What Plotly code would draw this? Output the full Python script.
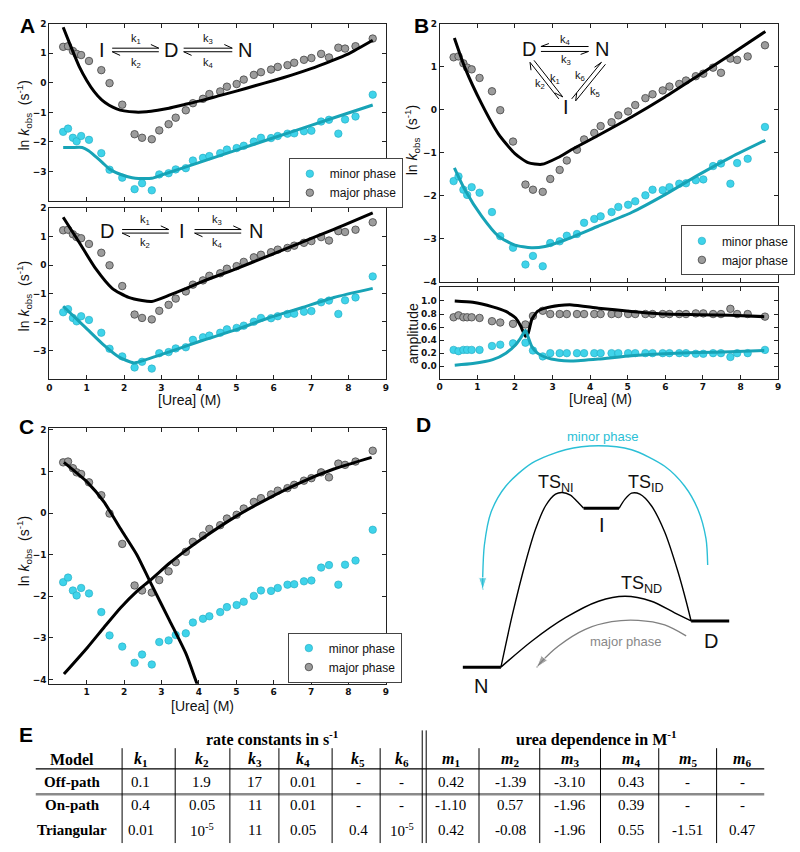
import plotly.graph_objects as go

# ---- measured data (same kinetic data in A, B, C) ----
urea = [0.37, 0.50, 0.63, 0.73, 0.85, 1.06, 1.39, 1.61, 1.95, 2.28, 2.48, 2.74, 2.94, 3.19,
        3.38, 3.65, 3.84, 4.11, 4.28, 4.57, 4.75, 5.01, 5.20, 5.47, 5.66, 5.93, 6.11, 6.37,
        6.55, 6.81, 7.01, 7.27, 7.48, 7.73, 7.91, 8.19, 8.65]
major = [1.22, 1.24, 1.08, 0.98, 0.94, 0.74, 0.43, -0.01, -0.74, -1.74, -1.86, -1.91, -1.61, -1.40,
         -1.18, -0.93, -0.69, -0.54, -0.38, -0.29, -0.13, -0.04, 0.11, 0.27, 0.36, 0.45, 0.54, 0.60,
         0.68, 0.78, 0.84, 0.98, 0.86, 1.19, 1.16, 1.24, 1.50]
minor = [-1.66, -1.55, -1.86, -1.98, -1.80, -1.93, -2.38, -2.94, -3.21, -3.60, -3.40, -3.64, -3.10, -3.06,
         -2.93, -2.89, -2.63, -2.54, -2.48, -2.38, -2.26, -2.21, -2.13, -1.99, -1.86, -1.87, -1.80, -1.72,
         -1.71, -1.64, -1.62, -1.31, -1.25, -1.72, -1.24, -1.14, -0.40]
amp_major = [0.75, 0.78, 0.75, 0.75, 0.75, 0.74, 0.69, 0.67, 0.65, 0.64, 0.77, 0.85, 0.80, 0.80,
             0.80, 0.80, 0.80, 0.80, 0.80, 0.80, 0.80, 0.80, 0.80, 0.80, 0.80, 0.80, 0.80, 0.80,
             0.80, 0.81, 0.81, 0.80, 0.80, 0.88, 0.80, 0.80, 0.76]
amp_minor = [0.25, 0.23, 0.25, 0.25, 0.25, 0.25, 0.31, 0.33, 0.35, 0.36, 0.24, 0.15, 0.20, 0.20,
             0.20, 0.20, 0.20, 0.20, 0.20, 0.20, 0.20, 0.20, 0.20, 0.20, 0.20, 0.20, 0.20, 0.20,
             0.20, 0.19, 0.19, 0.20, 0.20, 0.14, 0.20, 0.20, 0.25]

# ---- model fits ----
offp_x = [0.37, 0.6, 0.8, 1.0, 1.2, 1.4, 1.6, 1.8, 2.0, 2.3, 2.6, 2.9, 3.2, 3.6, 4.0, 4.5, 5.0, 5.5, 6.0, 6.5, 7.0, 7.5, 8.0, 8.65]
offp_major = [1.88, 1.15, 0.55, 0.08, -0.30, -0.58, -0.76, -0.88, -0.95, -0.99, -0.98, -0.93, -0.86, -0.74, -0.62, -0.45, -0.28, -0.10, 0.08, 0.27, 0.48, 0.72, 0.98, 1.44]
offp_minor_x = [0.37, 0.6, 0.88, 1.05, 1.24, 1.42, 1.59, 1.77, 1.95, 2.1, 2.3, 2.74, 3.0, 4.0, 5.0, 6.0, 7.0, 8.0, 8.65]
offp_minor = [-2.19, -2.19, -2.19, -2.30, -2.50, -2.70, -2.90, -3.03, -3.12, -3.18, -3.23, -3.23, -3.12, -2.70, -2.28, -1.86, -1.44, -1.02, -0.75]

onp_x = [0.37, 0.8, 1.24, 1.68, 2.12, 2.48, 2.74, 3.19, 3.63, 4.07, 4.96, 5.84, 6.73, 7.61, 8.65]
onp_major = [1.68, 0.79, -0.13, -0.82, -1.14, -1.25, -1.28, -1.07, -0.84, -0.59, -0.15, 0.31, 0.79, 1.25, 1.83]
onp_minor_x = [0.37, 0.97, 1.42, 1.86, 2.26, 2.48, 3.19, 4.07, 4.96, 5.84, 6.73, 7.61, 8.65]
onp_minor = [-1.45, -2.20, -2.77, -3.23, -3.44, -3.37, -3.06, -2.66, -2.29, -1.87, -1.51, -1.14, -0.82]

tri_x = [0.39, 0.67, 1.12, 1.56, 2.0, 2.35, 2.71, 3.15, 3.50, 4.21, 5.10, 5.98, 6.87, 7.75, 8.66]
tri_major = [1.67, 0.98, 0.13, -0.56, -1.02, -1.23, -1.27, -1.11, -0.93, -0.60, -0.17, 0.29, 0.79, 1.29, 1.82]
tri_minor_x = [0.39, 0.67, 1.12, 1.56, 2.0, 2.44, 2.80, 3.33, 4.21, 5.10, 5.98, 6.87, 7.75, 8.66]
tri_minor = [-1.35, -1.86, -2.48, -2.94, -3.15, -3.21, -3.18, -3.03, -2.71, -2.39, -1.98, -1.52, -1.10, -0.71]

amp_fit_x = [0.40, 0.88, 1.41, 1.76, 2.02, 2.15, 2.28, 2.35, 2.45, 2.6, 2.8, 3.17, 3.52, 4.22, 5.10, 5.98, 6.86, 7.74, 8.63]
amp_fit_major = [1.00, 0.98, 0.91, 0.84, 0.74, 0.62, 0.46, 0.50, 0.72, 0.84, 0.89, 0.93, 0.94, 0.89, 0.84, 0.80, 0.79, 0.78, 0.76]
amp_fit_minor = [0.015, 0.04, 0.10, 0.20, 0.33, 0.43, 0.55, 0.45, 0.30, 0.20, 0.14, 0.09, 0.08, 0.11, 0.16, 0.19, 0.21, 0.22, 0.24]

two_x = [0.39, 1.02, 1.46, 1.90, 2.34, 2.69, 3.22, 3.66, 4.09, 4.97, 5.85, 6.73, 7.61, 8.62]
two_fold = [-3.87, -3.23, -2.75, -2.28, -1.88, -1.62, -1.20, -0.89, -0.61, -0.09, 0.35, 0.74, 1.06, 1.34]
two_unf_x = [0.39, 1.02, 1.46, 1.90, 2.34, 2.69, 3.22, 3.66, 3.92, 4.05]
two_unf = [1.22, 0.74, 0.27, -0.37, -1.00, -1.64, -2.59, -3.39, -4.03, -4.35]

# ---- energy diagram (schematic, in panel pixel units) ----
ts_up_x = [501.7, 513.3, 526.7, 536.7, 546.7, 556.7, 563.3, 571.7, 580, 585]
ts_up_y = [670, 616.7, 563.3, 530, 506.7, 495, 493.3, 496, 504, 509.3]
ts_dn_x = [620.7, 626.7, 633.3, 641.7, 653.3, 666.7, 680, 688.3, 693.3]
ts_dn_y = [509.3, 500, 494, 495, 506.7, 533.3, 573.3, 603.3, 623.3]
ts_nd_x = [501.7, 533.3, 566.7, 600, 626.7, 653.3, 676.7, 693.3]
ts_nd_y = [670, 643.3, 620, 603.3, 598.3, 603.3, 615, 623.3]
minor_arc_x = [710, 708.3, 700, 686.7, 666.7, 633.3, 600, 566.7, 533.3, 506.7, 491.7, 485, 483.3, 483.3]
minor_arc_y = [566.7, 540, 510, 486.7, 466.7, 450, 446, 450, 463.3, 486.7, 513.3, 546.7, 580, 592]
major_arc_x = [688.3, 666.7, 640, 613.3, 586.7, 560, 542, 537.5]
major_arc_y = [638.3, 627.3, 622.7, 624, 631.7, 648.3, 665, 670.5]
levels = {"N": (463.3, 501.7, 670), "I": (585, 620.7, 509.3), "D": (693.3, 731.7, 623.3)}

# ---- table E ----
tab_cols = ["Model", "k1", "k2", "k3", "k4", "k5", "k6", "m1", "m2", "m3", "m4", "m5", "m6"]
tab_rows = {
    "Off-path": ["0.1", "1.9", "17", "0.01", "-", "-", "0.42", "-1.39", "-3.10", "0.43", "-", "-"],
    "On-path": ["0.4", "0.05", "11", "0.01", "-", "-", "-1.10", "0.57", "-1.96", "0.39", "-", "-"],
    "Triangular": ["0.01", "10<sup>-5</sup>", "11", "0.05", "0.4", "10<sup>-5</sup>", "0.42", "-0.08", "-1.96", "0.55", "-1.51", "0.47"],
}

CYAN = "#3fd3ea"
TEAL = "#17a3b6"
GREY = "#9c9c9c"
W, H = 800, 852


def px(x):
    return x / W


def py(y):
    return 1 - y / H


fig = go.Figure()


def kin_panel(n, fits, legend=None):
    xa, ya = ("x", "y") if n == 1 else (f"x{n}", f"y{n}")
    fig.add_trace(go.Scatter(x=urea, y=minor, mode="markers", xaxis=xa, yaxis=ya, name="minor phase",
                             marker=dict(color=CYAN, size=7.5, line=dict(color="#22aabf", width=0.6)),
                             showlegend=legend is not None, legend=legend or "legend"))
    fig.add_trace(go.Scatter(x=urea, y=major, mode="markers", xaxis=xa, yaxis=ya, name="major phase",
                             marker=dict(color=GREY, size=7.5, line=dict(color="#444", width=0.8)),
                             showlegend=legend is not None, legend=legend or "legend"))
    for fx, fy, col in fits:
        fig.add_trace(go.Scatter(x=fx, y=fy, mode="lines", xaxis=xa, yaxis=ya, showlegend=False,
                                 line=dict(color=col, width=3, shape="spline", smoothing=0.6)))


kin_panel(1, [(offp_x, offp_major, "black"), (offp_minor_x, offp_minor, TEAL)], "legend")
kin_panel(2, [(onp_x, onp_major, "black"), (onp_minor_x, onp_minor, TEAL)])
kin_panel(3, [(tri_x, tri_major, "black"), (tri_minor_x, tri_minor, TEAL)], "legend2")
kin_panel(5, [(two_x, two_fold, "black"), (two_unf_x, two_unf, "black")], "legend3")

# amplitudes
fig.add_trace(go.Scatter(x=urea, y=amp_minor, mode="markers", xaxis="x4", yaxis="y4", showlegend=False,
                         marker=dict(color=CYAN, size=7.5, line=dict(color="#22aabf", width=0.6))))
fig.add_trace(go.Scatter(x=urea, y=amp_major, mode="markers", xaxis="x4", yaxis="y4", showlegend=False,
                         marker=dict(color=GREY, size=7.5, line=dict(color="#444", width=0.8))))
fig.add_trace(go.Scatter(x=amp_fit_x, y=amp_fit_major, mode="lines", xaxis="x4", yaxis="y4", showlegend=False,
                         line=dict(color="black", width=3, shape="spline", smoothing=0.5)))
fig.add_trace(go.Scatter(x=amp_fit_x, y=amp_fit_minor, mode="lines", xaxis="x4", yaxis="y4", showlegend=False,
                         line=dict(color=TEAL, width=3, shape="spline", smoothing=0.5)))

# energy diagram
for cx, cy in [(ts_up_x, ts_up_y), (ts_dn_x, ts_dn_y), (ts_nd_x, ts_nd_y)]:
    fig.add_trace(go.Scatter(x=cx, y=cy, mode="lines", xaxis="x6", yaxis="y6", showlegend=False,
                             line=dict(color="black", width=1.4, shape="spline", smoothing=0.8)))
for name, (x0, x1, yl) in levels.items():
    fig.add_trace(go.Scatter(x=[x0, x1], y=[yl, yl], mode="lines", xaxis="x6", yaxis="y6", showlegend=False,
                             line=dict(color="black", width=3)))
for ax_, ay_, col in [(minor_arc_x, minor_arc_y, "#2bbfd6"), (major_arc_x, major_arc_y, "#808080")]:
    sizes = [0] * (len(ax_) - 1) + [13]
    fig.add_trace(go.Scatter(x=ax_, y=ay_, mode="lines+markers", xaxis="x6", yaxis="y6", showlegend=False,
                             line=dict(color=col, width=1.4, shape="spline", smoothing=0.8),
                             marker=dict(symbol="arrow", angleref="previous", size=sizes, color=col)))

axis_common = dict(showline=True, linecolor="#222", linewidth=1, mirror="ticks", ticks="inside",
                   ticklen=4, tickcolor="#222", showgrid=False, zeroline=False,
                   tickfont=dict(family="DejaVu Sans", size=9, weight="bold", color="#111"))
xl, xr = px(46.7), px(385.7)
bl, br = px(440), px(781)
ky = [-4, -3, -2, -1, 0, 1, 2]

fig.update_layout(
    width=W, height=H, margin=dict(l=0, r=0, t=0, b=0),
    paper_bgcolor="white", plot_bgcolor="white",
    xaxis=dict(axis_common, domain=[xl, xr], range=[0, 9], dtick=1, showticklabels=False, anchor="y"),
    yaxis=dict(axis_common, domain=[py(198.3), py(19)], range=[-4, 2], tickvals=ky[1:], anchor="x"),
    xaxis2=dict(axis_common, domain=[xl, xr], range=[0, 9], dtick=1, anchor="y2"),
    yaxis2=dict(axis_common, domain=[py(378.3), py(205.5)], range=[-4, 2], tickvals=ky[1:], anchor="x2"),
    xaxis3=dict(axis_common, domain=[bl, br], range=[0, 9], dtick=1, showticklabels=False, anchor="y3"),
    yaxis3=dict(axis_common, domain=[py(280), py(19)], range=[-4, 2], tickvals=ky, anchor="x3"),
    xaxis4=dict(axis_common, domain=[bl, br], range=[0, 9], dtick=1, anchor="y4"),
    yaxis4=dict(axis_common, domain=[py(378), py(285)], range=[-0.19, 1.22],
                tickvals=[0, 0.2, 0.4, 0.6, 0.8, 1.0], tickformat=".1f", anchor="x4"),
    xaxis5=dict(axis_common, domain=[xl, xr], range=[0, 9], tickvals=[1, 2, 3, 4, 5, 6, 7, 8, 9], anchor="y5"),
    yaxis5=dict(axis_common, domain=[py(686.7), py(428.3)], range=[-4.1, 2.04], tickvals=ky, anchor="x5"),
    xaxis6=dict(domain=[px(420), px(790)], range=[420, 790], visible=False, anchor="y6"),
    yaxis6=dict(domain=[py(700), py(430)], range=[700, 430], visible=False, anchor="x6"),
)

leg = dict(bgcolor="white", bordercolor="#444", borderwidth=1, xanchor="left", yanchor="top",
           font=dict(family="Liberation Sans", size=12, color="#111"), tracegroupgap=0,
           itemwidth=30, traceorder="normal")
fig.update_layout(
    legend=dict(leg, x=px(288), y=py(155)),
    legend2=dict(leg, x=px(683), y=py(223)),
    legend3=dict(leg, x=px(287), y=py(635)),
)

ann = []


def text(x, y, s, size=14, color="#111", family="Liberation Sans", angle=0, bold=False):
    ann.append(dict(x=px(x), y=py(y), xref="paper", yref="paper", text=s, showarrow=False,
                    xanchor="center", yanchor="middle", textangle=angle,
                    font=dict(family=family, size=size, color=color,
                              weight="bold" if bold else "normal")))


ylab = "ln <i>k</i><sub>obs</sub>  (s<sup>-1</sup>)"
text(21, 112, ylab, angle=-90)
text(21, 295, ylab, angle=-90)
text(413, 137, ylab, angle=-90)
text(21, 553, ylab, angle=-90)
text(413, 332, "amplitude", angle=-90)
text(188, 400, "[Urea] (M)")
text(602, 399, "[Urea] (M)")
text(201, 709, "[Urea] (M)")

for lab, x, y in [("A", 25, 21), ("B", 422, 21), ("C", 24, 427), ("D", 424, 424), ("E", 23, 738)]:
    text(x, y, lab, size=21, bold=True, color="black")

# reaction schemes
text(100, 46, "I", size=20)
text(169, 46, "D", size=20)
text(244, 46, "N", size=20)
text(134, 34, "k<sub>1</sub>", size=11)
text(134, 59, "k<sub>2</sub>", size=11)
text(207, 34, "k<sub>3</sub>", size=11)
text(207, 59, "k<sub>4</sub>", size=11)
text(105, 229, "D", size=20)
text(180, 229, "I", size=20)
text(255, 229, "N", size=20)
text(143, 218, "k<sub>1</sub>", size=11)
text(143, 241, "k<sub>2</sub>", size=11)
text(216, 218, "k<sub>3</sub>", size=11)
text(216, 241, "k<sub>4</sub>", size=11)
text(530, 45, "D", size=20)
text(604, 45, "N", size=20)
text(567, 103, "I", size=20)
text(567, 35, "k<sub>4</sub>", size=11)
text(567, 56, "k<sub>3</sub>", size=11)
text(556, 75, "k<sub>1</sub>", size=11)
text(541, 80, "k<sub>2</sub>", size=11)
text(581, 72, "k<sub>6</sub>", size=11)
text(596, 88, "k<sub>5</sub>", size=11)

# energy diagram labels
text(605, 437, "minor phase", size=13, color="#2bbfd6")
text(628, 644, "major phase", size=13, color="#888")
text(557, 484, "TS<sub>NI</sub>", size=18)
text(648, 484, "TS<sub>ID</sub>", size=18)
text(643, 586, "TS<sub>ND</sub>", size=18)
text(482, 689, "N", size=20)
text(604, 526, "I", size=20)
text(713, 644, "D", size=20)

# table E
col_x = [70, 139, 200, 254, 302, 358, 402, 451, 511, 571, 633, 690, 745]
row_y = [786, 810, 835]
serif = "Liberation Serif"
text(272, 742, "rate constants in s<sup>-1</sup>", size=16, bold=True, family=serif, color="black")
text(598, 742, "urea dependence in M<sup>-1</sup>", size=16, bold=True, family=serif, color="black")
for cx, c in zip(col_x, tab_cols):
    s = c if c == "Model" else f"<i>{c[0]}</i><sub>{c[1]}</sub>"
    text(cx, 763, s, size=16, bold=True, family=serif, color="black")
for ry, (rname, vals) in zip(row_y, tab_rows.items()):
    text(col_x[0], ry, rname, size=15, bold=True, family=serif, color="black")
    for cx, v in zip(col_x[1:], vals):
        text(cx, ry, v, size=15, family=serif, color="black")
fig.update_layout(annotations=ann)

shapes = []


def seg(x0, y0, x1, y1, color="black", width=1):
    shapes.append(dict(type="line", xref="paper", yref="paper", x0=px(x0), y0=py(y0), x1=px(x1), y1=py(y1),
                       line=dict(color=color, width=width)))


seg(33, 773, 767, 773, width=1.2)
seg(33, 798.5, 767, 798.5, color="#8a8a8a", width=2.5)
for vx in [120, 173.5, 228.6, 278, 331.6, 380, 479.6, 540.8, 602, 660.7, 719]:
    seg(vx, 752, vx, 848)
for vx in [422.4, 426.4]:
    seg(vx, 734, vx, 848)


# scheme arrows (half-headed equilibrium arrows)
def eq_arrow(x0, x1, y):
    seg(x0, y - 1.8, x1, y - 1.8)
    seg(x1 - 8, y - 5.5, x1, y - 1.8)
    seg(x0, y + 1.8, x1, y + 1.8)
    seg(x0, y + 1.8, x0 + 8, y + 5.5)


eq_arrow(110, 157, 45.5)
eq_arrow(182, 231, 45.5)
eq_arrow(120, 167, 229)
eq_arrow(193, 240, 229)
# triangle scheme
seg(542, 42, 590, 42)
seg(542, 42, 550, 39)
seg(542, 47, 590, 47)
seg(590, 47, 582, 50)
seg(531, 58, 560, 95)
seg(531, 58, 532, 66)
seg(535, 56, 564, 93)
seg(564, 93, 556, 89)
seg(603, 58, 573, 95)
seg(603, 58, 596, 63)
seg(607, 60, 577, 97)
seg(577, 97, 578, 89)
fig.update_layout(shapes=shapes)

# drop the browser's default body margin so the 800x852 figure fills the window exactly
fig.write_html("out.html", config={"displayModeBar": False},
               post_script="document.body.style.margin='0';")
